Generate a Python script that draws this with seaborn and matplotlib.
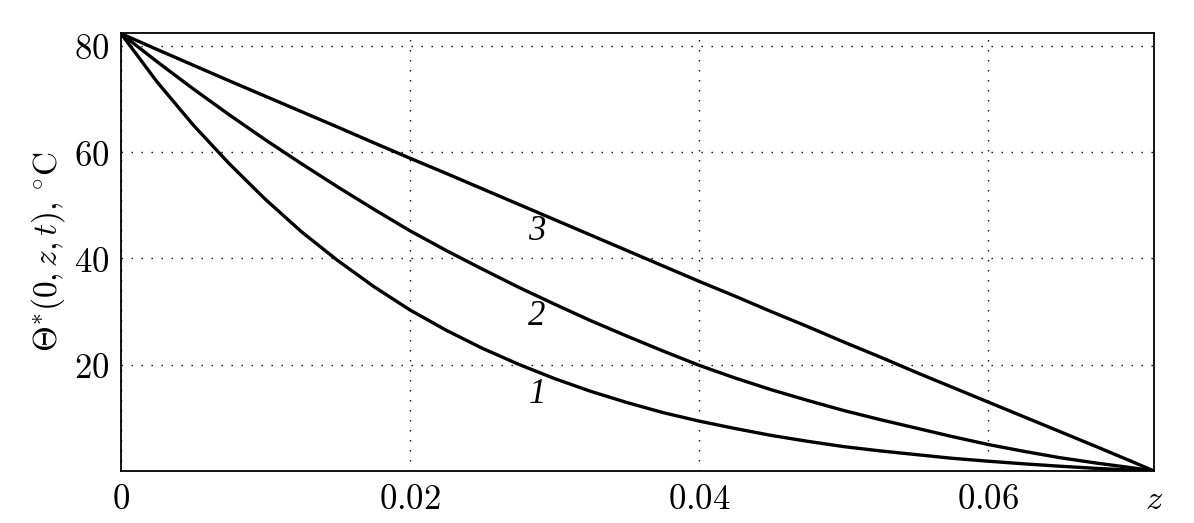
import matplotlib
matplotlib.use("Agg")
import matplotlib.pyplot as plt
import seaborn as sns
import pandas as pd

# z coordinate, m
z = [0, 0.0025, 0.005, 0.0075, 0.01, 0.0125, 0.015, 0.0175, 0.02, 0.0225,
     0.025, 0.0275, 0.03, 0.0325, 0.035, 0.0375, 0.04, 0.0425, 0.045, 0.0475,
     0.05, 0.0525, 0.055, 0.0575, 0.06, 0.0625, 0.065, 0.0675, 0.07, 0.0715]
# temperature profiles, deg C
curve_1 = [82.3, 73.2, 65.1, 57.8, 51.1, 45.0, 39.6, 34.7, 30.3, 26.5,
           23.1, 20.1, 17.4, 15.0, 12.9, 11.0, 9.4, 8.0, 6.7, 5.6,
           4.6, 3.8, 3.1, 2.4, 1.85, 1.35, 0.9, 0.5, 0.15, 0]
curve_2 = [82.3, 77.0, 71.9, 67.0, 62.3, 57.8, 53.45, 49.25, 45.2, 41.5,
           38.0, 34.6, 31.4, 28.3, 25.4, 22.6, 19.9, 17.5, 15.3, 13.3,
           11.4, 9.7, 8.1, 6.5, 5.0, 3.7, 2.5, 1.5, 0.6, 0]
curve_3 = [82.3, 79.3, 76.35, 73.4, 70.5, 67.6, 64.7, 61.75, 58.85, 56.0,
           53.1, 50.2, 47.3, 44.4, 41.5, 38.6, 35.7, 32.9, 30.0, 27.2,
           24.3, 21.5, 18.6, 15.8, 13.0, 10.2, 7.4, 4.6, 1.75, 0]
curve_names = ["1", "2", "3"]
label_z = [0.0288, 0.0288, 0.0288]
label_t = [14.3, 29.0, 45.0]

x_ticks = [0, 0.02, 0.04, 0.06, 0.0715]
x_labels = ["$0$", "$0.02$", "$0.04$", "$0.06$", "$z$"]
y_ticks = [20, 40, 60, 80]

df = pd.DataFrame({
    "z": z * 3,
    "theta": curve_1 + curve_2 + curve_3,
    "curve": [n for n in curve_names for _ in z],
})

sns.set_style("white", {"text.color": "black", "axes.labelcolor": "black",
                        "xtick.color": "black", "ytick.color": "black",
                        "axes.edgecolor": "black"})
plt.rcParams["mathtext.fontset"] = "cm"
plt.rcParams["font.family"] = ["DejaVu Serif"]

fig = plt.figure(figsize=(11.94, 5.23), dpi=100)
ax = fig.add_axes([0.1013, 0.0994, 0.8652, 0.8375])

sns.lineplot(data=df, x="z", y="theta", hue="curve",
             palette=["black"] * 3, linewidth=2.4, legend=False, ax=ax,
             sort=False)

# curve numbers
for name, lx, ly in zip(curve_names, label_z, label_t):
    ax.text(lx, ly, name, fontsize=25, family="Liberation Serif",
            style="italic", ha="center", va="center", color="black")

ax.set_xlim(0, 0.0715)
ax.set_ylim(0, 82.4)
ax.set_xticks(x_ticks)
ax.set_xticklabels(x_labels, fontsize=25)
ax.set_yticks(y_ticks)
ax.set_yticklabels(["$%d$" % v for v in y_ticks], fontsize=25)
ax.tick_params(direction="in", length=0, pad=8)

ax.grid(True, color="black", linewidth=1.0, linestyle=(0, (1, 6.2)))
for s in ax.spines.values():
    s.set_color("black")
    s.set_linewidth(1.3)

ax.set_xlabel("")
ax.set_ylabel(r"$\Theta^{*}(0,z,t),\,{}^{\circ}\mathrm{C}$", fontsize=24)
ax.yaxis.set_label_coords(-0.052, 0.5)

fig.savefig("out.png", dpi=100)
